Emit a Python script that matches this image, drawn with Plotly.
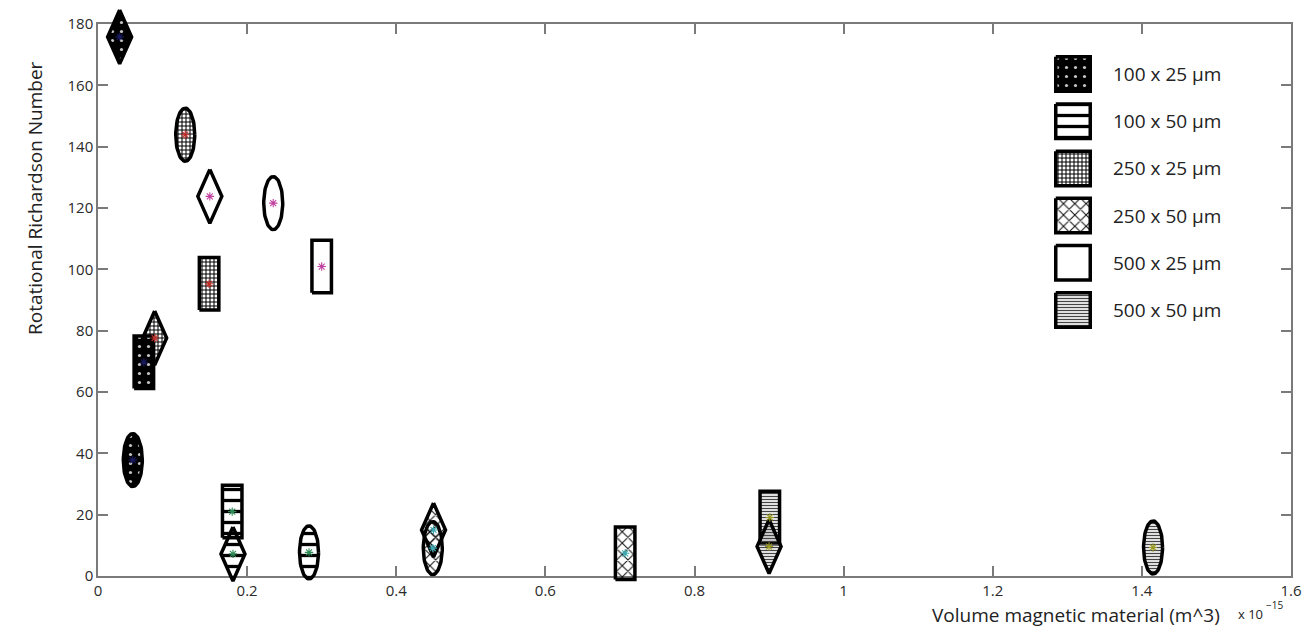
import numpy as np
import plotly.graph_objects as go

# ---------------- data ----------------
series_names = ["100 x 25 µm", "100 x 50 µm", "250 x 25 µm",
                "250 x 50 µm", "500 x 25 µm", "500 x 50 µm"]
# volume in units of 1e-15 m^3, Rotational Richardson number
volume_diamond = [0.029, 0.181, 0.076, 0.450, 0.150, 0.900]
ri_diamond     = [175.8, 7.2, 77.6, 15.0, 123.8, 9.6]
volume_rect    = [0.0615, 0.180, 0.149, 0.707, 0.300, 0.901]
ri_rect        = [69.7, 21.0, 95.3, 7.4, 100.9, 19.1]
volume_ellipse = [0.0467, 0.283, 0.117, 0.449, 0.235, 1.415]
ri_ellipse     = [37.8, 7.7, 143.9, 9.1, 121.6, 9.3]

x_ticks = [0, 0.2, 0.4, 0.6, 0.8, 1.0, 1.2, 1.4, 1.6]
x_ticklabels = ["0", "0.2", "0.4", "0.6", "0.8", "1", "1.2", "1.4", "1.6"]
y_ticks = [0, 20, 40, 60, 80, 100, 120, 140, 160, 180]

# ---------------- layout geometry / styles ----------------
W, H = 1316, 634
ML, MR, MT, MB = 98, 25, 24, 58
PW, PH = W - ML - MR, H - MT - MB
XR, YR = [0, 1.6], [0, 180]
dxp = (XR[1] - XR[0]) / PW
dyp = (YR[1] - YR[0]) / PH
FONT = "Open Sans"

CLEAR = "rgba(0,0,0,0)"
patterns = [
    dict(fillcolor="black", pat=dict(shape=".", bgcolor="black", fgcolor="#c4c4c4", fgopacity=1, size=9, solidity=0.1)),
    dict(fillcolor=CLEAR, pat=dict(shape="-", bgcolor=CLEAR, fgcolor="black", fgopacity=1, size=11, solidity=0.3)),
    dict(fillcolor=CLEAR, pat=dict(shape="+", bgcolor=CLEAR, fgcolor="black", fgopacity=1, size=4, solidity=0.45)),
    dict(fillcolor=CLEAR, pat=dict(shape="x", bgcolor=CLEAR, fgcolor="#111111", fgopacity=1, size=8, solidity=0.25)),
    dict(fillcolor="white", pat=None),
    dict(fillcolor=CLEAR, pat=dict(shape="-", bgcolor=CLEAR, fgcolor="#444444", fgopacity=1, size=3, solidity=0.45)),
]
star_colors = ["#1a1a60", "#2e8b57", "#c0302a", "#3aa8b0", "#c040a0", "#9a9a20"]
LW = 3.5


def diamond(cx, cy, wpx=24, hpx=54):
    hx, hy = wpx / 2 * dxp, hpx / 2 * dyp
    return [cx, cx + hx, cx, cx - hx, cx], [cy + hy, cy, cy - hy, cy, cy + hy]


def rect(cx, cy, wpx=19.5, hpx=52.5):
    hx, hy = wpx / 2 * dxp, hpx / 2 * dyp
    return [cx - hx, cx + hx, cx + hx, cx - hx, cx - hx], [cy - hy, cy - hy, cy + hy, cy + hy, cy - hy]


def ellipse(cx, cy, wpx=19, hpx=53):
    t = np.linspace(0, 2 * np.pi, 73)
    return list(cx + wpx / 2 * dxp * np.cos(t)), list(cy + hpx / 2 * dyp * np.sin(t))


def shape_trace(xs, ys, k, xaxis, yaxis):
    p = patterns[k]
    kw = dict(x=xs, y=ys, mode="lines", fill="toself", fillcolor=p["fillcolor"],
              line=dict(color="black", width=LW), hoverinfo="skip", showlegend=False,
              xaxis=xaxis, yaxis=yaxis)
    if p["pat"] is not None:
        kw["fillpattern"] = p["pat"]
    return go.Scatter(**kw)


fig = go.Figure()

# invisible anchor points on the main axes (makes the main axes draw)
for k in range(len(series_names)):
    fig.add_trace(go.Scatter(
        x=[volume_diamond[k], volume_rect[k], volume_ellipse[k]],
        y=[ri_diamond[k], ri_rect[k], ri_ellipse[k]],
        mode="markers", showlegend=False, hoverinfo="skip", cliponaxis=False,
        marker=dict(symbol="circle", size=1, color=CLEAR,
                    line=dict(color=CLEAR, width=0))))

# shapes on an unclipped full-figure axis pair that uses the same data scale
draw_order = [2, 0, 1, 3, 4, 5]
for k in draw_order:
    xs, ys = rect(volume_rect[k], ri_rect[k])
    fig.add_trace(shape_trace(xs, ys, k, "x3", "y3"))
    xs, ys = ellipse(volume_ellipse[k], ri_ellipse[k])
    fig.add_trace(shape_trace(xs, ys, k, "x3", "y3"))
    xs, ys = diamond(volume_diamond[k], ri_diamond[k])
    fig.add_trace(shape_trace(xs, ys, k, "x3", "y3"))

for k in range(len(series_names)):
    fig.add_trace(go.Scatter(
        x=[volume_diamond[k], volume_rect[k], volume_ellipse[k]],
        y=[ri_diamond[k], ri_rect[k], ri_ellipse[k]],
        mode="markers", showlegend=False, hoverinfo="skip",
        xaxis="x3", yaxis="y3",
        marker=dict(symbol="asterisk-open", size=7, color=star_colors[k],
                    line=dict(color=star_colors[k], width=1.1))))

# ---------------- custom legend (pixel coordinates on hidden axes) ----------------
leg_x0, leg_y0, leg_step, leg_sz = 1073, 74, 47.2, 34.5
for k, name in enumerate(series_names):
    cy = leg_y0 + k * leg_step
    h = leg_sz / 2
    xs = [leg_x0 - h, leg_x0 + h, leg_x0 + h, leg_x0 - h, leg_x0 - h]
    ys = [cy - h, cy - h, cy + h, cy + h, cy - h]
    fig.add_trace(shape_trace(xs, ys, k, "x2", "y2"))
    fig.add_annotation(x=1111 / W, y=1 - cy / H, xref="paper", yref="paper", text=name,
                       showarrow=False, xanchor="left", yanchor="middle",
                       font=dict(family=FONT, size=19, color="#222222"))

axis_common = dict(showgrid=False, zeroline=False, showline=True, linecolor="#7a7a7a",
                   linewidth=1.5, mirror="ticks", ticks="inside", ticklen=10,
                   tickcolor="#7a7a7a", tickwidth=1.5, automargin=False,
                   tickfont=dict(family=FONT, size=15, color="#2a2a2a"))
hidden = dict(visible=False, showgrid=False, zeroline=False, fixedrange=True)

fig.update_layout(
    width=W, height=H,
    margin=dict(l=0, r=0, t=0, b=0),
    paper_bgcolor="white", plot_bgcolor=CLEAR,
    showlegend=False,
    xaxis=dict(range=XR, tickvals=x_ticks, ticktext=x_ticklabels,
               domain=[ML / W, (ML + PW) / W], anchor="y", **axis_common),
    yaxis=dict(range=YR, tickvals=y_ticks, domain=[MB / H, (MB + PH) / H], anchor="x",
               **axis_common),
    xaxis2=dict(range=[0, W], domain=[0, 1], anchor="y2", **hidden),
    yaxis2=dict(range=[H, 0], domain=[0, 1], anchor="x2", **hidden),
    xaxis3=dict(range=[XR[0] - ML * dxp, XR[1] + MR * dxp], domain=[0, 1], anchor="y3", **hidden),
    yaxis3=dict(range=[YR[0] - MB * dyp, YR[1] + MT * dyp], domain=[0, 1], anchor="x3", **hidden),
)

fig.add_annotation(x=35 / W, y=1 - 198 / H, xref="paper", yref="paper", textangle=-90,
                   text="Rotational Richardson Number", showarrow=False,
                   xanchor="center", yanchor="middle",
                   font=dict(family=FONT, size=19, color="#222222"))
fig.add_annotation(x=1076 / W, y=1 - 615 / H, xref="paper", yref="paper",
                   xanchor="center", yanchor="middle",
                   text="Volume magnetic material (m^3)", showarrow=False,
                   font=dict(family=FONT, size=19, color="#222222"))
fig.add_annotation(x=1236 / W, y=1 - 614 / H, xref="paper", yref="paper",
                   xanchor="left", yanchor="middle",
                   text="x 10", showarrow=False,
                   font=dict(family=FONT, size=13, color="#222222"))
fig.add_annotation(x=1264 / W, y=1 - 605 / H, xref="paper", yref="paper",
                   xanchor="left", yanchor="middle",
                   text="−15", showarrow=False,
                   font=dict(family=FONT, size=10, color="#222222"))

fig.write_html("out.html")
